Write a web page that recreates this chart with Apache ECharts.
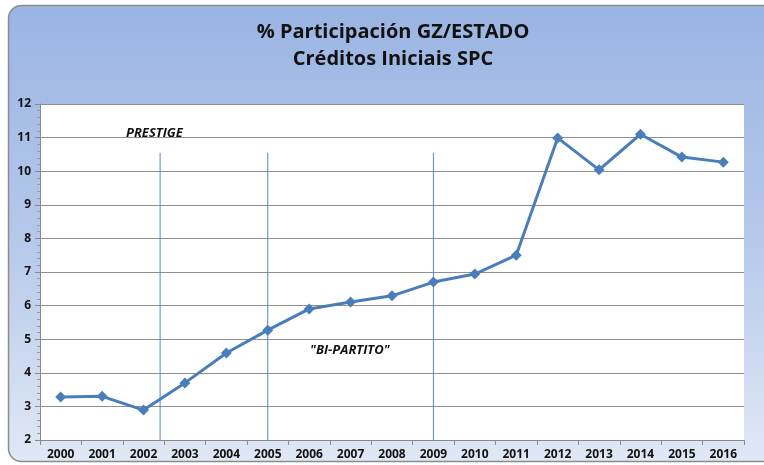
<!DOCTYPE html>
<html>
<head>
<meta charset="utf-8">
<script src="https://cdn.jsdelivr.net/npm/echarts@6/dist/echarts.min.js"></script>
<style>
html, body { margin: 0; padding: 0; background: #fff; }
#main { width: 764px; height: 465px; }
</style>
</head>
<body>
<div id="main"></div>
<script>
// anos
var years = ['2000', '2001', '2002', '2003', '2004', '2005', '2006', '2007', '2008',
	'2009', '2010', '2011', '2012', '2013', '2014', '2015', '2016'];
// % participacion GZ/ESTADO
var shareValues = [3.28, 3.30, 2.89, 3.70, 4.59, 5.27, 5.90, 6.11, 6.29,
	6.70, 6.94, 7.50, 10.99, 10.04, 11.10, 10.42, 10.27];
// separadores (posicion en indice de categoria, valor superior)
var dividerPos = [2.4, 5.0, 9.0];
var dividerTop = [10.55, 10.55, 10.55];
var yMin = 2, yMax = 12;

var chart = echarts.init(document.getElementById('main'));

var dividerSeries = dividerPos.map(function(x, i) {
	return {
		type: 'line',
		xAxisIndex: 1,
		silent: true,
		symbol: 'none',
		z: 1,
		lineStyle: { color: '#5585c6', width: 1 },
		data: [[x, yMin], [x, dividerTop[i]]]
	};
});

var option = {
	backgroundColor: 'transparent',
	graphic: [{
		type: 'rect',
		z: -10,
		shape: { x: 8.5, y: 5.5, width: 780, height: 456, r: 13 },
		style: {
			fill: new echarts.graphic.LinearGradient(0, 0, 0, 1, [
				{ offset: 0, color: '#9ab4e3' },
				{ offset: 0.5, color: '#b4c8ea' },
				{ offset: 1, color: '#e0e8f5' }
			]),
			stroke: '#8c8c8c',
			lineWidth: 1.5
		}
	}, {
		type: 'text',
		x: 393,
		y: 19,
		z: 10,
		style: {
			text: '% Participación GZ/ESTADO\nCréditos Iniciais SPC',
			font: 'bold 20px "Open Sans"',
			fill: '#111',
			align: 'center',
			lineHeight: 27
		}
	}, {
		type: 'text',
		left: 126,
		top: 127,
		z: 10,
		style: {
			text: 'PRESTIGE',
			font: 'italic bold 13px "Open Sans"',
			fill: '#111'
		}
	}, {
		type: 'text',
		left: 310,
		top: 344,
		z: 10,
		style: {
			text: '"BI-PARTITO"',
			font: 'italic bold 13px "Open Sans"',
			fill: '#111'
		}
	}],
	grid: {
		left: 40,
		right: 20,
		top: 104,
		bottom: 25,
		show: true,
		backgroundColor: '#ffffff',
		borderWidth: 0
	},
	xAxis: [{
		type: 'category',
		data: years,
		boundaryGap: true,
		axisLine: { lineStyle: { color: '#8a8a8a', width: 1 } },
		axisTick: { show: true, length: 5, interval: 0, lineStyle: { color: '#8a8a8a' } },
		axisLabel: {
			interval: 0,
			margin: 9,
			color: '#111',
			fontWeight: 'bold',
			fontSize: 12,
			fontFamily: 'Open Sans'
		},
		splitLine: { show: false }
	}, {
		type: 'value',
		min: -0.5,
		max: years.length - 0.5,
		show: false
	}],
	yAxis: {
		type: 'value',
		min: yMin,
		max: yMax,
		interval: 1,
		axisLine: { show: true, onZero: false, lineStyle: { color: '#8a8a8a', width: 1 } },
		axisTick: { show: true, length: 5, lineStyle: { color: '#8a8a8a' } },
		minorTick: { show: true, splitNumber: 5, length: 3, lineStyle: { color: '#9a9a9a' } },
		axisLabel: {
			margin: 9,
			color: '#111',
			fontWeight: 'bold',
			fontSize: 12,
			fontFamily: 'Open Sans'
		},
		splitLine: { show: true, lineStyle: { color: '#8f8f8f', width: 1 } }
	},
	series: dividerSeries.concat([{
		name: '% GZ/ESTADO',
		type: 'line',
		data: shareValues,
		symbol: 'diamond',
		symbolSize: 11,
		z: 5,
		lineStyle: { color: '#4a7ebb', width: 3 },
		itemStyle: { color: '#4a7ebb' }
	}])
};

chart.setOption(option);
</script>
</body>
</html>
